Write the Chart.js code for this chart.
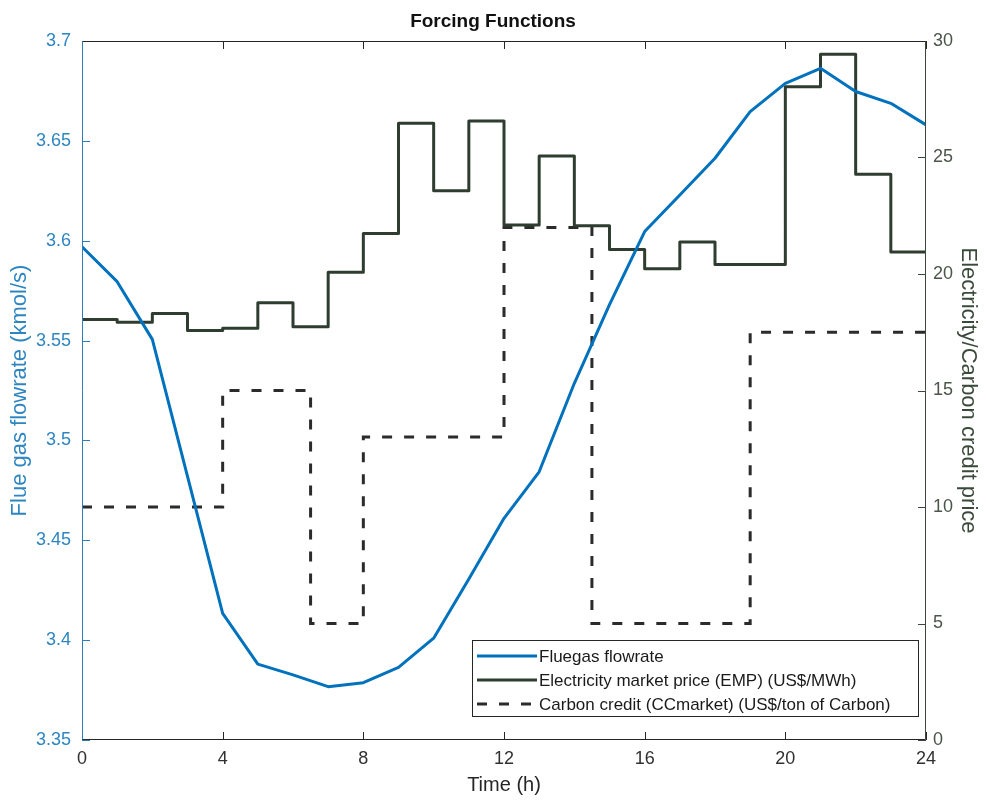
<!DOCTYPE html>
<html>
<head>
<meta charset="utf-8">
<script src="https://cdn.jsdelivr.net/npm/chart.js@4/dist/chart.umd.min.js"></script>
<style>
  html, body { margin: 0; padding: 0; background: #ffffff; }
  #wrap { width: 986px; height: 801px; }
</style>
</head>
<body>
<div id="wrap"><canvas id="chart" width="986" height="801"></canvas></div>
<script>
// Hourly flue gas flowrate (kmol/s), t = 0..24 h
const flueHours = [0, 1, 2, 3, 4, 5, 6, 7, 8, 9, 10, 11, 12, 13, 14, 15, 16, 17, 18, 19, 20, 21, 22, 23, 24];
const flueGas = [3.597, 3.5795, 3.5506, 3.482, 3.4134, 3.388, 3.3826, 3.3767, 3.3787, 3.3864, 3.401, 3.4306,
                 3.461, 3.4843, 3.5286, 3.568, 3.6046, 3.6229, 3.6413, 3.6646, 3.6788, 3.6863, 3.6747, 3.6688, 3.658];

// Electricity market price (US$/MWh), one value per hour starting at t = 0..23
const empHours = [0, 1, 2, 3, 4, 5, 6, 7, 8, 9, 10, 11, 12, 13, 14, 15, 16, 17, 18, 19, 20, 21, 22, 23];
const empPrice = [18.05, 17.93, 18.31, 17.57, 17.67, 18.77, 17.74, 20.07, 21.74, 26.47, 23.57, 26.57,
                  22.1, 25.06, 22.07, 21.05, 20.23, 21.37, 20.41, 20.41, 28.04, 29.43, 24.28, 20.94];

// Carbon credit price (US$/ton of Carbon), value held from each break time
const ccBreaks = [0, 4, 6.5, 8, 12, 14.5, 19];
const ccPrice = [10, 15, 5, 13, 22, 5, 17.5];

const endHour = 24;
const xTicks = [0, 4, 8, 12, 16, 20, 24];
const leftTicks = [3.35, 3.4, 3.45, 3.5, 3.55, 3.6, 3.65, 3.7];
const rightTicks = [0, 5, 10, 15, 20, 25, 30];

const seriesLabels = ['Fluegas flowrate', 'Electricity market price (EMP) (US$/MWh)', 'Carbon credit (CCmarket) (US$/ton of Carbon)'];

const BLUE = '#0072BD';
const DARK = '#2f3d30';
const DASH = '#2b2b2b';
const FONT = "'Liberation Sans', Arial, Helvetica, sans-serif";

// step series: one point per change, plus the closing point at the end of the day
function stepPoints(xs, ys) {
  const pts = xs.map((x, i) => ({ x: x, y: ys[i] }));
  pts.push({ x: endHour, y: ys[ys.length - 1] });
  return pts;
}

// inward tick marks, box frame and the in-plot legend
const framePlugin = {
  id: 'frame',
  afterDraw(chart) {
    const { ctx, chartArea: a, scales } = chart;
    const len = 8;
    ctx.save();
    ctx.lineWidth = 1;
    // x ticks (bottom and top)
    ctx.strokeStyle = '#262626';
    xTicks.forEach(v => {
      const px = Math.round(scales.x.getPixelForValue(v)) + 0.5;
      ctx.beginPath();
      ctx.moveTo(px, a.bottom); ctx.lineTo(px, a.bottom - len);
      ctx.moveTo(px, a.top); ctx.lineTo(px, a.top + len);
      ctx.stroke();
    });
    // left ticks
    ctx.strokeStyle = '#2f7fb6';
    leftTicks.forEach(v => {
      const py = Math.round(scales.yL.getPixelForValue(v)) + 0.5;
      ctx.beginPath(); ctx.moveTo(a.left, py); ctx.lineTo(a.left + len, py); ctx.stroke();
    });
    // right ticks
    ctx.strokeStyle = '#3a4a3a';
    rightTicks.forEach(v => {
      const py = Math.round(scales.yR.getPixelForValue(v)) + 0.5;
      ctx.beginPath(); ctx.moveTo(a.right, py); ctx.lineTo(a.right - len, py); ctx.stroke();
    });
    // box
    const L = Math.round(a.left) + 0.5, R = Math.round(a.right) - 0.5;
    const T = Math.round(a.top) + 0.5, B = Math.round(a.bottom) - 0.5;
    ctx.strokeStyle = '#262626';
    ctx.beginPath(); ctx.moveTo(L, T); ctx.lineTo(R, T); ctx.moveTo(L, B); ctx.lineTo(R, B); ctx.stroke();
    ctx.strokeStyle = '#2f7fb6';
    ctx.beginPath(); ctx.moveTo(L, T); ctx.lineTo(L, B); ctx.stroke();
    ctx.strokeStyle = '#3a4a3a';
    ctx.beginPath(); ctx.moveTo(R, T); ctx.lineTo(R, B); ctx.stroke();

    // legend box
    const bx = 472, by = 640, bw = 446, bh = 76;
    ctx.fillStyle = '#ffffff';
    ctx.fillRect(bx, by, bw, bh);
    ctx.strokeStyle = '#262626';
    ctx.strokeRect(bx + 0.5, by + 0.5, bw, bh);
    const rows = [656, 680, 704];
    chart.data.datasets.forEach((ds, i) => {
      const y = rows[i];
      ctx.save();
      ctx.strokeStyle = ds.borderColor;
      ctx.lineWidth = ds.borderWidth;
      ctx.setLineDash(ds.borderDash || []);
      ctx.beginPath(); ctx.moveTo(477, y); ctx.lineTo(537, y); ctx.stroke();
      ctx.restore();
      ctx.fillStyle = '#1a1a1a';
      ctx.font = '17px ' + FONT;
      ctx.textBaseline = 'middle';
      ctx.textAlign = 'left';
      ctx.fillText(ds.label, 539, y + 1);
    });
    ctx.restore();
  }
};

new Chart(document.getElementById('chart'), {
  type: 'line',
  data: {
    datasets: [
      {
        label: seriesLabels[0],
        data: flueHours.map((h, i) => ({ x: h, y: flueGas[i] })),
        yAxisID: 'yL',
        borderColor: BLUE,
        borderWidth: 3,
        pointRadius: 0,
        tension: 0,
        borderJoinStyle: 'round'
      },
      {
        label: seriesLabels[1],
        data: stepPoints(empHours, empPrice),
        yAxisID: 'yR',
        borderColor: DARK,
        borderWidth: 3,
        pointRadius: 0,
        stepped: 'before',
        borderJoinStyle: 'round'
      },
      {
        label: seriesLabels[2],
        data: stepPoints(ccBreaks, ccPrice),
        yAxisID: 'yR',
        borderColor: DASH,
        borderWidth: 3,
        borderDash: [10, 12],
        pointRadius: 0,
        stepped: 'before'
      }
    ]
  },
  options: {
    responsive: false,
    animation: false,
    layout: { padding: 0 },
    plugins: {
      legend: { display: false },
      tooltip: { enabled: false },
      title: {
        display: true,
        text: 'Forcing Functions',
        color: '#111111',
        font: { family: FONT, size: 19, weight: 'bold' },
        padding: { top: 10, bottom: 8.2 }
      }
    },
    scales: {
      x: {
        type: 'linear',
        min: 0, max: 24,
        afterBuildTicks: s => { s.ticks = xTicks.map(v => ({ value: v })); },
        afterFit: s => { s.height = 61; },
        grid: { display: false, drawTicks: false },
        border: { display: false },
        ticks: { color: '#303030', font: { family: FONT, size: 18 }, padding: 8 },
        title: { display: true, text: 'Time (h)', color: '#262626', font: { family: FONT, size: 20 }, padding: { top: 0, bottom: 4 } }
      },
      yL: {
        type: 'linear',
        position: 'left',
        min: 3.35, max: 3.7,
        afterBuildTicks: s => { s.ticks = leftTicks.map(v => ({ value: v })); },
        afterFit: s => { s.width = 82; },
        grid: { display: false, drawTicks: false },
        border: { display: false },
        ticks: {
          color: '#2e86c1',
          font: { family: FONT, size: 18 },
          padding: 11,
          callback: v => String(Number(v.toFixed(2)))
        },
        title: { display: true, text: 'Flue gas flowrate (kmol/s)', color: '#2e86c1', font: { family: FONT, size: 22 }, padding: { top: 7, bottom: 0 } }
      },
      yR: {
        type: 'linear',
        position: 'right',
        min: 0, max: 30,
        afterBuildTicks: s => { s.ticks = rightTicks.map(v => ({ value: v })); },
        afterFit: s => { s.width = 60; },
        grid: { display: false, drawTicks: false },
        border: { display: false },
        ticks: { color: '#4a564a', font: { family: FONT, size: 18 }, padding: 7 },
        title: { display: true, text: 'Electricity/Carbon credit price', color: '#3a4a3a', font: { family: FONT, size: 22 }, padding: { top: 5, bottom: 0 } }
      }
    }
  },
  plugins: [framePlugin]
});
</script>
</body>
</html>
